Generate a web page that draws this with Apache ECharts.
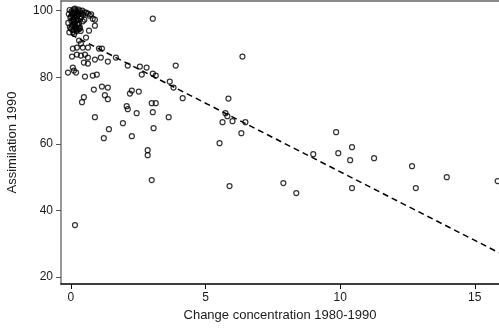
<!DOCTYPE html>
<html>
<head>
<meta charset="utf-8">
<script src="https://cdn.jsdelivr.net/npm/echarts@6/dist/echarts.min.js"></script>
<style>
  html, body { margin: 0; padding: 0; background: #fff; }
  #chart { width: 499px; height: 329px; }
</style>
</head>
<body>
<div id="chart"></div>
<script>
// values: [change concentration, assimilation]
var clusterPoints = [
  [-0.05, 100.2], [0.02, 99.8], [0.1, 100.4], [0.18, 100.1], [0.25, 99.6], [0.33, 99.9],
  [0.4, 99.2], [-0.08, 99.0], [0.05, 98.7], [0.14, 99.3], [0.22, 98.4], [0.3, 98.9],
  [0.38, 98.2], [0.45, 98.8], [-0.02, 97.9], [0.08, 97.5], [0.16, 97.9], [0.26, 97.2],
  [0.35, 97.6], [0.02, 96.8], [0.12, 96.5], [0.2, 96.9], [0.3, 96.2], [-0.1, 96.3],
  [0.06, 95.6], [0.16, 95.2], [0.25, 95.8], [0.33, 95.0], [0.0, 94.6], [0.1, 94.2],
  [0.2, 93.8], [0.28, 94.4], [-0.06, 93.5], [0.12, 93.0], [0.36, 93.9], [0.04, 99.4],
  [0.12, 98.0], [0.2, 99.7], [0.28, 100.3], [0.42, 100.0], [0.5, 99.5], [0.0, 98.3],
  [0.24, 96.0], [0.18, 94.8], [0.08, 93.6], [0.5, 97.3], [0.32, 94.6], [-0.04, 95.0],
  [0.44, 96.8], [0.15, 100.6], [0.07, 99.1], [0.18, 98.6], [0.26, 99.0], [0.1, 97.1],
  [0.22, 97.6], [0.14, 96.0], [0.04, 95.2], [0.22, 94.3],
  [0.56, 99.4], [0.63, 99.1], [0.7, 98.5], [0.81, 97.6], [0.89, 97.3], [0.75, 98.9],
  [0.89, 95.5], [0.67, 94.0]
];

var nearPoints = [
  [0.3, 91.0], [0.56, 91.9], [0.37, 90.1], [0.07, 88.6], [0.22, 88.9], [0.44, 88.9],
  [0.63, 88.9], [1.04, 88.6], [1.15, 88.6], [0.04, 86.2], [0.22, 86.8], [0.37, 86.5],
  [0.52, 86.8], [0.63, 85.9], [0.89, 85.3], [1.11, 85.9], [1.37, 84.7], [1.67, 85.9],
  [0.48, 84.4], [0.63, 84.1], [0.07, 82.9], [0.11, 82.0], [-0.11, 81.4], [0.19, 81.4],
  [0.52, 80.2], [0.81, 80.5], [0.96, 80.8],
  [1.15, 77.2], [1.37, 76.9], [0.85, 76.3], [0.48, 74.0], [0.41, 72.5], [1.26, 74.6],
  [1.37, 73.4], [0.89, 68.0], [1.22, 61.7], [1.41, 64.4], [0.15, 35.6]
];

var midPoints = [
  [3.04, 97.6], [2.11, 83.5], [2.56, 83.2], [2.81, 82.9], [3.89, 83.5], [2.63, 80.8],
  [3.04, 81.1], [3.15, 80.5], [3.67, 78.7], [3.81, 76.9], [4.15, 73.7],
  [2.19, 75.1], [2.26, 76.0], [2.52, 75.7], [2.07, 71.3], [2.11, 70.4], [2.44, 69.2],
  [3.0, 72.2], [3.15, 72.2], [3.04, 69.5], [3.07, 64.7], [3.63, 68.0], [1.93, 66.2],
  [2.26, 62.3], [2.85, 58.1], [2.85, 56.6], [3.0, 49.1]
];

var farPoints = [
  [6.37, 86.2], [5.85, 73.6], [5.74, 69.2], [5.81, 68.3], [5.63, 66.5], [6.0, 66.8],
  [6.48, 66.5], [6.33, 63.2], [5.52, 60.2], [5.89, 47.3],
  [9.85, 63.5], [10.44, 59.0], [9.93, 57.2], [9.0, 56.9], [10.37, 55.1], [11.26, 55.7],
  [12.67, 53.3], [13.96, 50.0], [15.85, 48.8], [8.37, 45.2], [10.44, 46.7], [12.81, 46.7],
  [7.89, 48.2]
];

// dashed fitted line, read at its ends
var fitX = [0, 15.9];
var fitY = [92.8, 27.3];

var xTicks = [0, 5, 10, 15];
var yTicks = [20, 40, 60, 80, 100];

var chart = echarts.init(document.getElementById('chart'));

var allPoints = clusterPoints.concat(nearPoints, midPoints, farPoints);
var fitLine = fitX.map(function (x, i) { return [x, fitY[i]]; });

var nameFont = { color: '#1a1a1a', fontSize: 13, fontFamily: 'Liberation Sans, Arial, sans-serif' };
var tickFont = { color: '#1a1a1a', fontSize: 12, fontFamily: 'Liberation Sans, Arial, sans-serif' };

var option = {
  animation: false,
  grid: { left: 61, right: 0, top: 1, bottom: 45, outerBoundsMode: 'none' },
  xAxis: [
    {
      type: 'value',
      min: -0.37,
      max: 15.9,
      name: 'Change concentration 1980-1990',
      nameLocation: 'middle',
      nameGap: 25,
      nameTextStyle: nameFont,
      axisLine: { show: true, onZero: false, lineStyle: { color: '#000', width: 1.5 } },
      axisTick: { show: true, length: 5, customValues: xTicks, lineStyle: { color: '#000' } },
      axisLabel: Object.assign({ margin: 8, customValues: xTicks }, tickFont),
      splitLine: { show: false }
    },
    {
      type: 'value',
      position: 'top',
      min: -0.37,
      max: 15.9,
      axisLine: { show: true, onZero: false, lineStyle: { color: '#666', width: 1.5 } },
      axisTick: { show: false },
      axisLabel: { show: false },
      splitLine: { show: false }
    }
  ],
  yAxis: {
    type: 'value',
    min: 17.9,
    max: 102.9,
    name: 'Assimilation 1990',
    nameLocation: 'middle',
    nameGap: 42,
    nameTextStyle: nameFont,
    axisLine: { show: true, onZero: false, lineStyle: { color: '#777', width: 1.5 } },
    axisTick: { show: true, length: 5, customValues: yTicks, lineStyle: { color: '#555' } },
    axisLabel: Object.assign({ margin: 8, customValues: yTicks }, tickFont),
    splitLine: { show: false }
  },
  series: [
    {
      type: 'scatter',
      data: allPoints,
      symbol: 'circle',
      symbolSize: 5,
      itemStyle: { color: 'rgba(0,0,0,0)', borderColor: '#000', borderWidth: 1.2 },
      z: 3
    },
    {
      type: 'line',
      data: fitLine,
      symbol: 'none',
      lineStyle: { color: '#000', width: 1.5, type: [6, 4] },
      z: 2
    }
  ]
};

chart.setOption(option);
</script>
</body>
</html>
